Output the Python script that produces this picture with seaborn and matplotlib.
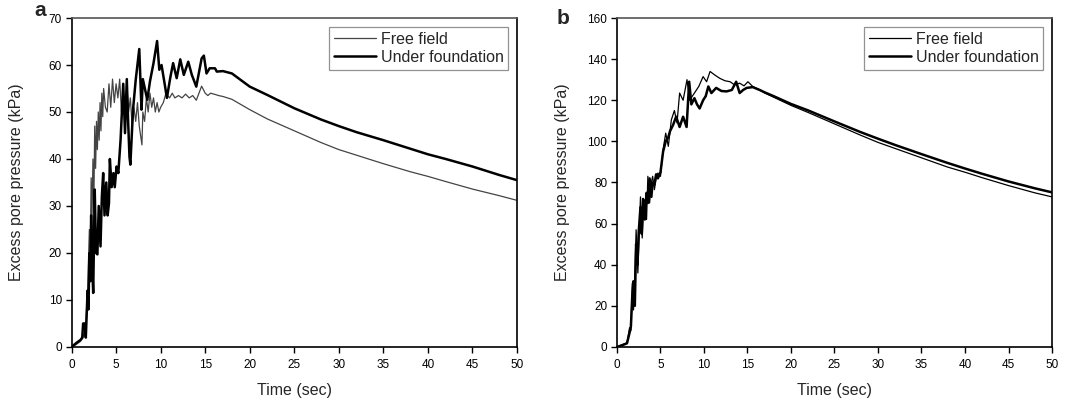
import pandas as pd
import matplotlib
matplotlib.use("Agg")
import matplotlib.pyplot as plt
import seaborn as sns

# panel a - free field
t_ff_a = [0, 0.5, 1.0, 1.3, 1.6, 1.8, 2.0, 2.1, 2.2, 2.3, 2.4, 2.5, 2.6, 2.7, 2.8, 2.9,
          3.0, 3.1, 3.2, 3.3, 3.4, 3.5, 3.6, 3.8, 4.0, 4.2, 4.4, 4.6, 4.8, 5.0, 5.2, 5.4,
          5.6, 5.8, 6.0, 6.2, 6.4, 6.6, 6.8, 7.0, 7.2, 7.4, 7.6, 7.9, 8.0, 8.2, 8.4, 8.6,
          8.8, 9.0, 9.2, 9.4, 9.6, 9.8, 10.0, 10.3, 10.6, 11.0, 11.3, 11.6, 12.0, 12.4,
          12.8, 13.2, 13.6, 14.0, 14.3, 14.6, 15.0, 15.3, 15.6, 16.0, 16.5, 17.0,
          18, 20, 22, 25, 28, 30, 32, 35, 38, 40, 42, 45, 48, 50]
p_ff_a = [0, 0.5, 1.2, 2.0, 5, 12, 25, 20, 36, 28, 40, 30, 47, 38, 48, 42,
          50, 44, 52, 46, 54, 49, 55, 51, 50, 56, 51, 57, 52, 56, 53, 57,
          50, 55, 48, 56, 50, 53, 47, 51, 48, 52, 47, 43, 50, 48, 53, 50,
          54, 51, 53, 50, 52, 50, 51, 52, 54, 53, 54, 53, 53.5, 53,
          53.8, 53, 53.5, 52.5, 54, 55.5, 54, 53.5, 54, 53.8, 53.5, 53.3,
          52.7, 50.5, 48.5, 46, 43.5, 42, 40.8, 39, 37.3, 36.3, 35.2, 33.6, 32.2, 31.2]

# panel a - under foundation
t_uf_a = [0, 0.5, 1.0, 1.2, 1.3, 1.5, 1.6, 1.8, 1.9, 2.0, 2.1, 2.2, 2.3, 2.43, 2.6,
          2.75, 2.9, 3.05, 3.25, 3.4, 3.55, 3.7, 3.9, 4.05, 4.2, 4.3, 4.5, 4.7, 4.85,
          5.05, 5.25, 5.5, 5.8, 6.0, 6.2, 6.35, 6.5, 6.6, 6.9, 7.2, 7.6, 7.85, 8.0, 8.5,
          8.8, 9.2, 9.6, 9.85, 10.1, 10.5, 10.7, 11.1, 11.4, 11.8, 12.2, 12.6, 13.1,
          13.5, 14.0, 14.6, 14.85, 15.15, 15.5, 16.1, 16.3, 17,
          18, 20, 22, 25, 28, 30, 32, 35, 38, 40, 42, 45, 48, 50]
p_uf_a = [0, 0.8, 1.5, 2, 5, 5, 2, 12, 8, 20, 14, 28, 18, 11.5, 33.5,
          20, 19.7, 30, 21.4, 32, 37, 28, 35, 28, 30.6, 40, 34, 37, 34,
          38.4, 37, 44, 56, 45.5, 57, 48, 40.5, 38.8, 50.5, 56.8, 63.4, 50.5, 57, 52.6,
          56.5, 60.4, 65.1, 59, 60, 55.4, 53, 57.5, 60.4, 57.2, 61.2, 57.9, 60.7,
          57.9, 55.4, 61.4, 62, 58.2, 59.3, 59.3, 58.6, 58.7,
          58.2, 55.4, 53.6, 50.8, 48.4, 47, 45.7, 44, 42.2, 41, 40, 38.4, 36.6, 35.5]

# panel b - free field
t_ff_b = [0, 0.7, 1.15, 1.45, 1.6, 1.76, 1.9, 2.05, 2.2, 2.4, 2.55, 2.7, 2.9, 3.05,
          3.2, 3.4, 3.55, 3.75, 3.95, 4.1, 4.3, 4.5, 4.7, 5.0, 5.3, 5.6, 5.9, 6.25,
          6.6, 6.9, 7.2, 7.6, 8.05, 8.35, 8.9, 9.4, 9.9, 10.3, 10.7, 11.2, 11.8, 12.4,
          13, 13.5, 14.1, 14.6, 15.05, 15.6, 16.4, 17,
          18, 20, 22, 25, 28, 30, 32, 35, 38, 40, 42, 45, 48, 50]
p_ff_b = [0, 1.3, 2, 9.4, 8, 31, 18, 35, 57, 36, 55, 73, 53, 68,
          71.7, 62, 83, 70, 80, 83, 76.5, 82, 84.6, 83, 96, 104, 97.6, 110.5,
          115, 109, 123.5, 120, 130, 120, 123.5, 126.7, 131.5, 129, 134, 132.4, 130.7, 129.5,
          129, 127.5, 128.3, 127, 129, 126.7, 125, 123.5,
          121.5, 117.5, 114, 108.5, 103, 99.5, 96.5, 92, 87.5, 85, 82.3, 78.5, 75, 73]

# panel b - under foundation
t_uf_b = [0, 0.7, 1.15, 1.45, 1.6, 1.76, 1.9, 2.05, 2.2, 2.35, 2.5, 2.7, 2.85, 3.0,
          3.2, 3.4, 3.55, 3.75, 3.95, 4.1, 4.3, 4.5, 4.7, 5.0, 5.3, 5.6, 5.9, 6.1,
          6.45, 6.8, 7.2, 7.6, 8.0, 8.3, 8.55, 8.9, 9.2, 9.5, 9.9, 10.2, 10.5, 10.85,
          11.4, 12.0, 12.6, 13.2, 13.7, 14.1, 14.5, 14.9, 15.6, 16.4, 17,
          18, 20, 22, 25, 28, 30, 32, 35, 38, 40, 42, 45, 48, 50]
p_uf_b = [0, 1, 1.8, 7, 10, 25, 32, 20, 50, 40, 56, 68, 55, 72,
          62, 75, 70, 82, 73, 80, 79, 84, 82, 85, 95, 100, 102, 105,
          108, 112, 107, 112, 107, 129, 118, 121, 118, 116, 120, 122, 126.7, 123.5,
          126, 124.5, 124.3, 125, 129, 123.5, 125, 126, 126.4, 125, 123.8,
          122, 118.2, 115, 109.7, 104.5, 101.3, 98.2, 93.8, 89.5, 86.8, 84.2, 80.5, 77.2, 75.2]

x_ticks = list(range(0, 51, 5))

sns.set_style("ticks")
plt.rcParams['font.family'] = ['Liberation Sans', 'DejaVu Sans']

fig = plt.figure(figsize=(10.76, 4.01), dpi=100)
fig.set_facecolor('white')
ax_a = fig.add_axes([0.0665, 0.1347, 0.414, 0.8204])
ax_b = fig.add_axes([0.5734, 0.1347, 0.4043, 0.8204])

panels = [
    (ax_a, t_ff_a, p_ff_a, t_uf_a, p_uf_a, 70, 10, 'a'),
    (ax_b, t_ff_b, p_ff_b, t_uf_b, p_uf_b, 160, 20, 'b'),
]

for ax, tf, pf, tu, pu, ymax, ystep, letter in panels:
    ff = pd.DataFrame({'t': tf, 'p': pf})
    uf = pd.DataFrame({'t': tu, 'p': pu})
    ff_col = '#444444' if letter == 'a' else 'black'
    sns.lineplot(data=ff, x='t', y='p', ax=ax, color=ff_col, linewidth=0.9,
                 label='Free field', estimator=None, sort=False)
    sns.lineplot(data=uf, x='t', y='p', ax=ax, color='black', linewidth=1.8,
                 label='Under foundation', estimator=None, sort=False)

    ax.set_xlim(0, 50)
    ax.set_ylim(0, ymax)
    ax.set_xticks(x_ticks)
    ax.set_yticks(list(range(0, ymax + 1, ystep)))
    ax.tick_params(direction='out', length=4, width=1, labelsize=8.5, colors='black', pad=3)
    ax.tick_params(axis='x', pad=5)
    for s in ['top', 'bottom', 'left', 'right']:
        ax.spines[s].set_visible(True)
        ax.spines[s].set_linewidth(1.2)
        ax.spines[s].set_color('black')
    ax.spines['top'].set_color('#555555')

    ax.set_xlabel('Time (sec)', fontsize=11.5, labelpad=8)
    ax.set_ylabel('Excess pore pressure (kPa)', fontsize=11.5)
    ax.yaxis.set_label_coords(-0.107, 0.5)

    leg = ax.legend(loc='upper right', fontsize=11.5, frameon=True, fancybox=False,
                    handlelength=2.6, handletextpad=0.3, borderpad=0.3,
                    labelspacing=0.2, borderaxespad=0.55)
    leg.get_frame().set_edgecolor('#777777')
    leg.get_frame().set_linewidth(0.9)

fig.text(40 / 1076, 1 - 11 / 401, 'a', fontsize=15, fontweight='bold', ha='center', va='center')
fig.text(563 / 1076, 1 - 18 / 401, 'b', fontsize=15, fontweight='bold', ha='center', va='center')

fig.savefig('out.png', dpi=100)
